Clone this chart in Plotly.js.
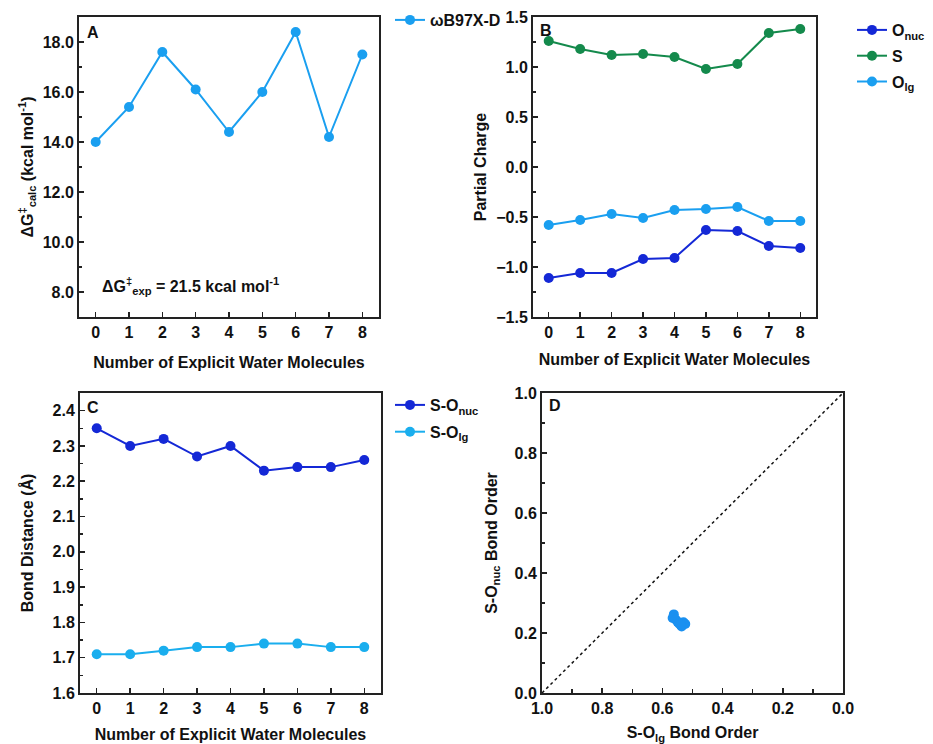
<!DOCTYPE html>
<html>
<head>
<meta charset="utf-8">
<script src="https://cdn.plot.ly/plotly-3.0.1.min.js"></script>
<style>html,body{margin:0;padding:0;background:#fff;}#chart{width:933px;height:744px;}</style>
</head>
<body>
<div id="chart"></div>
<script>
// ---- data ----
const waters = [0, 1, 2, 3, 4, 5, 6, 7, 8];
// Panel A: calculated barrier (kcal/mol)
const dG_calc = [14.0, 15.4, 17.6, 16.1, 14.4, 16.0, 18.4, 14.2, 17.5];
// Panel B: partial charges
const charge_Onuc = [-1.11, -1.06, -1.06, -0.92, -0.91, -0.63, -0.64, -0.79, -0.81];
const charge_S = [1.26, 1.18, 1.12, 1.13, 1.10, 0.98, 1.03, 1.34, 1.38];
const charge_Olg = [-0.58, -0.53, -0.47, -0.51, -0.43, -0.42, -0.40, -0.54, -0.54];
// Panel C: bond distances (Å)
const dist_SOnuc = [2.35, 2.30, 2.32, 2.27, 2.30, 2.23, 2.24, 2.24, 2.26];
const dist_SOlg = [1.71, 1.71, 1.72, 1.73, 1.73, 1.74, 1.74, 1.73, 1.73];
// Panel D: bond orders
const bo_SOlg = [0.562, 0.566, 0.556, 0.550, 0.545, 0.530, 0.524, 0.536, 0.540];
const bo_SOnuc = [0.262, 0.250, 0.245, 0.238, 0.232, 0.236, 0.230, 0.222, 0.228];
const diag_x = [1.0, 0.0];
const diag_y = [0.0, 1.0];

// ---- style ----
const W = 933, H = 744;
const FONT = 'Liberation Sans, Arial, Helvetica, sans-serif';
const cLight = '#1a9ff0';
const cCyan = '#1aaeee';
const cDark = '#1428d6';
const cGreen = '#148a4c';
const px = v => v / W;
const py = v => 1 - v / H;

function ln(c) { return {color: c, width: 2}; }
function mk(c) { return {color: c, size: 10}; }

const traces = [
  {x: waters, y: dG_calc, name: 'ωB97X-D', mode: 'lines+markers', line: ln(cLight), marker: mk(cLight), xaxis: 'x', yaxis: 'y', legend: 'legend'},
  {x: waters, y: charge_Onuc, name: 'O<sub>nuc</sub>', legendgroup: 'b1', mode: 'lines+markers', line: ln(cDark), marker: mk(cDark), xaxis: 'x2', yaxis: 'y2', legend: 'legend2'},
  {x: waters, y: charge_S, name: 'S', legendgroup: 'b2', mode: 'lines+markers', line: ln(cGreen), marker: mk(cGreen), xaxis: 'x2', yaxis: 'y2', legend: 'legend2'},
  {x: waters, y: charge_Olg, name: 'O<sub>lg</sub>', legendgroup: 'b3', mode: 'lines+markers', line: ln(cLight), marker: mk(cLight), xaxis: 'x2', yaxis: 'y2', legend: 'legend2'},
  {x: waters, y: dist_SOnuc, name: 'S-O<sub>nuc</sub>', legendgroup: 'c1', mode: 'lines+markers', line: ln(cDark), marker: mk(cDark), xaxis: 'x3', yaxis: 'y3', legend: 'legend3'},
  {x: waters, y: dist_SOlg, name: 'S-O<sub>lg</sub>', legendgroup: 'c2', mode: 'lines+markers', line: ln(cCyan), marker: mk(cCyan), xaxis: 'x3', yaxis: 'y3', legend: 'legend3'},
  {x: diag_x, y: diag_y, mode: 'lines', line: {color: '#111', width: 1.5, dash: 'dot'}, xaxis: 'x4', yaxis: 'y4', showlegend: false, hoverinfo: 'skip'},
  {x: bo_SOlg, y: bo_SOnuc, mode: 'markers', marker: {color: '#1a90f0', size: 10}, xaxis: 'x4', yaxis: 'y4', showlegend: false}
];

function axisBase(extra) {
  return Object.assign({
    showline: true, mirror: true, linecolor: '#222', linewidth: 2,
    showgrid: false, zeroline: false,
    ticks: 'inside', ticklen: 5, tickwidth: 1.5, tickcolor: '#222',
    tickfont: {family: FONT, size: 16, color: '#111', weight: 700},
    fixedrange: true
  }, extra);
}
function title(t, standoff) {
  return {text: t, font: {family: FONT, size: 16, color: '#111', weight: 700}, standoff: standoff};
}
const waterTitle = 'Number of Explicit Water Molecules';
const legFont = {family: FONT, size: 16, color: '#111', weight: 700};

const layout = {
  width: W, height: H,
  margin: {l: 0, r: 0, t: 0, b: 0},
  paper_bgcolor: '#fff', plot_bgcolor: '#fff',
  font: {family: FONT, size: 16, color: '#111', weight: 700},
  xaxis: axisBase({domain: [px(79), px(379)], anchor: 'y', range: [-0.5, 8.5], tickvals: waters, title: title(waterTitle, 17)}),
  yaxis: axisBase({domain: [py(317), py(17)], anchor: 'x', range: [7, 19], dtick: 2, tick0: 0, tickformat: '.1f',
    minor: {ticks: 'inside', ticklen: 3, tickcolor: '#222', dtick: 1},
    title: title('ΔG<sup>‡</sup><sub>calc</sub> (kcal mol<sup>-1</sup>)', 5)}),
  xaxis2: axisBase({domain: [px(533), px(816)], anchor: 'y2', range: [-0.5, 8.5], tickvals: waters, title: title(waterTitle, 14)}),
  yaxis2: axisBase({domain: [py(317), py(17)], anchor: 'x2', range: [-1.5, 1.5], dtick: 0.5, tick0: 0, tickformat: '.1f',
    minor: {ticks: 'inside', ticklen: 3, tickcolor: '#222', dtick: 0.25},
    title: title('Partial Charge', 6)}),
  xaxis3: axisBase({domain: [px(80), px(381)], anchor: 'y3', range: [-0.5, 8.5], tickvals: waters, title: title(waterTitle, 13)}),
  yaxis3: axisBase({domain: [py(693), py(393)], anchor: 'x3', range: [1.6, 2.45], dtick: 0.1, tick0: 0, tickformat: '.1f',
    minor: {ticks: 'inside', ticklen: 3, tickcolor: '#222', dtick: 0.05},
    title: title('Bond Distance (Å)', 15)}),
  xaxis4: axisBase({domain: [px(542), px(843)], anchor: 'y4', range: [1.0, 0.0], dtick: 0.2, tick0: 0, tickformat: '.1f',
    minor: {ticks: 'inside', ticklen: 4, tickcolor: '#222', dtick: 0.1},
    title: title('S-O<sub>lg</sub> Bond Order', 11)}),
  yaxis4: axisBase({domain: [py(693), py(393)], anchor: 'x4', range: [0, 1.0], dtick: 0.2, tick0: 0, tickformat: '.1f',
    minor: {ticks: 'inside', ticklen: 3, tickcolor: '#222', dtick: 0.1},
    title: title('S-O<sub>nuc</sub> Bond Order', 13)}),
  legend: {x: px(390), y: py(3), xanchor: 'left', yanchor: 'top', bgcolor: 'rgba(0,0,0,0)', font: legFont},
  legend2: {x: px(852), y: py(13), xanchor: 'left', yanchor: 'top', bgcolor: 'rgba(0,0,0,0)', font: legFont, tracegroupgap: 2},
  legend3: {x: px(390), y: py(388), xanchor: 'left', yanchor: 'top', bgcolor: 'rgba(0,0,0,0)', font: legFont, tracegroupgap: 3},
  showlegend: true,
  annotations: [
    {text: 'A', x: px(85), y: py(33), xref: 'paper', yref: 'paper', xanchor: 'left', yanchor: 'middle', showarrow: false, font: legFont},
    {text: 'B', x: px(538), y: py(31), xref: 'paper', yref: 'paper', xanchor: 'left', yanchor: 'middle', showarrow: false, font: legFont},
    {text: 'C', x: px(85), y: py(408), xref: 'paper', yref: 'paper', xanchor: 'left', yanchor: 'middle', showarrow: false, font: legFont},
    {text: 'D', x: px(547), y: py(406), xref: 'paper', yref: 'paper', xanchor: 'left', yanchor: 'middle', showarrow: false, font: legFont},
    {text: 'ΔG<sup>‡</sup><sub>exp</sub> = 21.5 kcal mol<sup>-1</sup>', x: px(100), y: py(286), xref: 'paper', yref: 'paper', xanchor: 'left', yanchor: 'middle', showarrow: false, font: legFont}
  ]
};

Plotly.newPlot('chart', traces, layout, {displayModeBar: false, staticPlot: true});
</script>
</body>
</html>
